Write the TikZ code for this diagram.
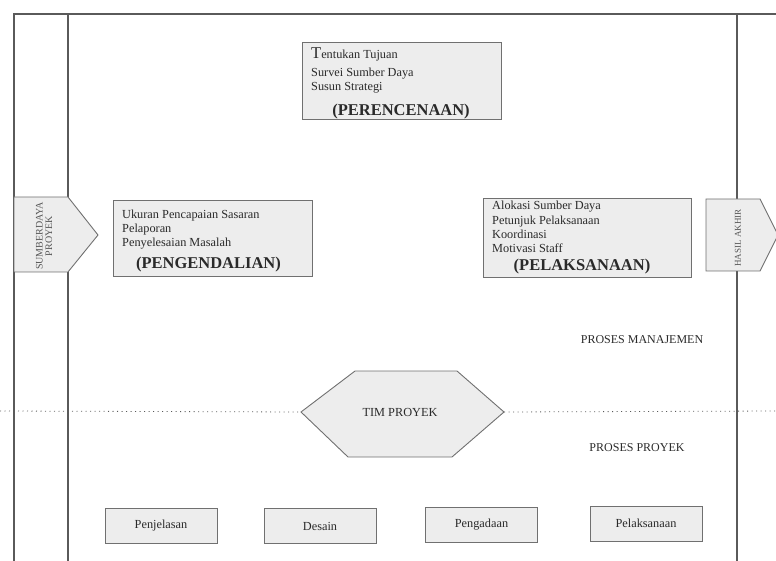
\documentclass[tikz,border=0pt]{standalone}
\usepackage{fontspec}
\setmainfont{Liberation Serif}
\definecolor{boxfill}{HTML}{EDEDED}
\definecolor{boxline}{HTML}{707070}
\definecolor{frameline}{HTML}{5A5A5A}
\definecolor{txtcol}{HTML}{2A2A2A}
\definecolor{sidetxt}{HTML}{555555}
\begin{document}
\begin{tikzpicture}[x=1pt,y=-1pt,
  box/.style={draw=boxline, fill=boxfill, line width=0.9pt, rectangle, inner sep=0pt},
  frame/.style={draw=frameline, line width=1.1pt},
  txt/.style={inner sep=0pt, text=txtcol, font=\fontsize{12.3}{14}\selectfont, anchor=base west},
  ttl/.style={inner sep=0pt, text=txtcol, font=\bfseries\fontsize{16.5}{18}\selectfont, anchor=base},
  lbl/.style={inner sep=0pt, text=txtcol, font=\fontsize{12}{14}\selectfont},
  btxt/.style={box, minimum width=112pt, minimum height=35pt, text=txtcol, font=\fontsize{12.3}{14}\selectfont},
  side/.style={inner sep=0pt, rotate=90, align=center, text=sidetxt},
  dots/.style={draw=frameline, line width=0.8pt, dash pattern=on 1pt off 3.5pt}
]
\useasboundingbox (0,0) rectangle (776,561);

% frame
\coordinate (ftr) at (776,14);
\coordinate (ftl) at (14,14);
\coordinate (fbl) at (14,561);
\coordinate (i1t) at (68,14);
\coordinate (i1b) at (68,561);
\coordinate (i2t) at (737,14);
\coordinate (i2b) at (737,561);
\draw[frame] (ftr) -- (ftl) -- (fbl);
\draw[frame] (i1t) -- (i1b);
\draw[frame] (i2t) -- (i2b);

% side pentagons
\draw[box] (14,197) -- (68,197) -- (98,235) -- (68,272) -- (14,272) -- cycle;
\node[side, font=\fontsize{10}{9.5}\selectfont] (sdp) at (44,236) {SUMBERDAYA\\PROYEK};
\draw[box] (706,199) -- (760,199) -- (778,235) -- (760,271) -- (706,271) -- cycle;
\node[side, font=\fontsize{9}{9}\selectfont] (hsl) at (738,238) {HASIL AKHIR};

% perencanaan
\node[box, minimum width=199pt, minimum height=77pt] (plan) at (401.5,80.5) {};
\node[txt] (p1) at (311,59) {{\fontsize{16.5}{16}\selectfont T}entukan Tujuan};
\node[txt] (p2) at (311,77) {Survei Sumber Daya};
\node[txt] (p3) at (311,90.5) {Susun Strategi};
\node[ttl] (pt) at (401,115.5) {(PERENCENAAN)};

% pengendalian
\node[box, minimum width=199pt, minimum height=76pt] (ctrl) at (212.5,238) {};
\node[txt] (c1) at (122,219) {Ukuran Pencapaian Sasaran};
\node[txt] (c2) at (122,233) {Pelaporan};
\node[txt] (c3) at (122,247) {Penyelesaian Masalah};
\node[ttl] (ct) at (208.5,269) {(PENGENDALIAN)};

% pelaksanaan
\node[box, minimum width=208pt, minimum height=79pt] (exec) at (587,237.5) {};
\node[txt] (e1) at (492,210) {Alokasi Sumber Daya};
\node[txt] (e2) at (492,225) {Petunjuk Pelaksanaan};
\node[txt] (e3) at (492,239) {Koordinasi};
\node[txt] (e4) at (492,253) {Motivasi Staff};
\node[ttl] (et) at (582,271) {(PELAKSANAAN)};

% labels
\node[lbl] (pm) at (642,340) {PROSES MANAJEMEN};
\node[lbl] (pp) at (637,448) {PROSES PROYEK};

% hexagon and dotted line
\coordinate (hl) at (301,412);
\coordinate (hr) at (504,412);
\coordinate (dl) at (0,411);
\coordinate (dr) at (776,411);
\draw[dots] (dl) -- (hl);
\draw[dots] (hr) -- (dr);
\draw[box] (hl) -- (355,371) -- (457,371) -- (hr) -- (452,457) -- (348,457) -- cycle;
\node[lbl, font=\fontsize{12.3}{14}\selectfont] (tim) at (400,412) {TIM PROYEK};

% bottom boxes
\node[btxt] (b1) at (161,526) {Penjelasan};
\node[btxt] (b2) at (320,526) {Desain};
\node[btxt] (b3) at (481.5,524.5) {Pengadaan};
\node[btxt] (b4) at (646,523.5) {Pelaksanaan};
\end{tikzpicture}
\end{document}
